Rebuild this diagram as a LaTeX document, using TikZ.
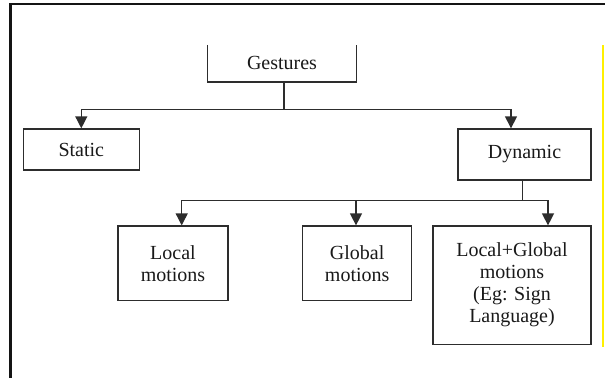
\documentclass[tikz,border=0pt]{standalone}
\usepackage{fontspec}
\setmainfont{Liberation Serif}
\usepackage{tikz}
\usetikzlibrary{
  arrows.meta,
  positioning,
  calc
}
\definecolor{linecolor}{RGB}{45, 45, 45}
\definecolor{labelcolor}{RGB}{25, 25, 25}
\definecolor{framecolor}{RGB}{20, 20, 20}
\definecolor{markcolor}{RGB}{255, 240, 0}
\tikzset{
blocktext/.style={
  align=center,
  font=\fontsize{15}{16.5}\selectfont,
  text=labelcolor,
  inner sep=0pt
},
block/.style={
  draw=linecolor,
  line width=1pt,
  blocktext
},
openblock/.style={
  blocktext
},
connector/.style={
  draw=linecolor,
  line width=1pt
},
arrow/.style={
  connector,
  -{Triangle[length=9pt,width=9pt]}
}
}

\begin{document}
\begin{tikzpicture}[x=0.75pt, y=-0.75pt]
        \useasboundingbox (0,0) rectangle (605,378);
        % page frame and margin mark
        \draw[framecolor, line width=1.8pt] (605,4) -- (10.5,4) -- (10.5,378);
        \draw[markcolor, line width=1.2pt] (603,45) -- (603,347);

        % boxes
        \node[openblock, minimum width=148.3*0.75pt, minimum height=36.7*0.75pt] (gestures) at (282,63.4) {Gestures};
        \draw[connector] (gestures.north west) -- (gestures.south west) -- (gestures.south east) -- (gestures.north east);

        \node[block, minimum width=116*0.75pt, minimum height=41*0.75pt] (static) at (81.3,149.5) {Static};
        \node[block, minimum width=133*0.75pt, minimum height=51*0.75pt] (dynamic) at (524.5,154.5) {Dynamic};

        \node[block, minimum width=110*0.75pt, minimum height=74.7*0.75pt] (local) at (173,263.4) {Local\\motions};
        \node[block, minimum width=109*0.75pt, minimum height=74.7*0.75pt] (global) at (357.2,263.4) {Global\\motions};
        \node[block, minimum width=158*0.75pt, minimum height=118.3*0.75pt] (localglobal) at (512,285.2) {Local+Global\\motions\\(Eg: Sign\\Language)};

        % connectors
        \coordinate (split1) at ($(gestures.south)+(2,27.6)$);
        \draw[connector] ($(gestures.south)+(2,0)$) -- (split1);
        \draw[arrow] (split1) -| (static.north);
        \draw[arrow] (split1) -| ($(dynamic.north)+(-13.5,0)$);

        \coordinate (split2) at ($(dynamic.south)+(-1.8,20)$);
        \draw[connector] ($(dynamic.south)+(-1.8,0)$) -- (split2);
        \draw[arrow] (split2) -| ($(local.north)+(8.7,0)$);
        \draw[arrow] (split2) -| ($(global.north)+(-1.2,0)$);
        \draw[arrow] (split2) -| ($(localglobal.north)+(36,0)$);
      \end{tikzpicture}
\end{document}
